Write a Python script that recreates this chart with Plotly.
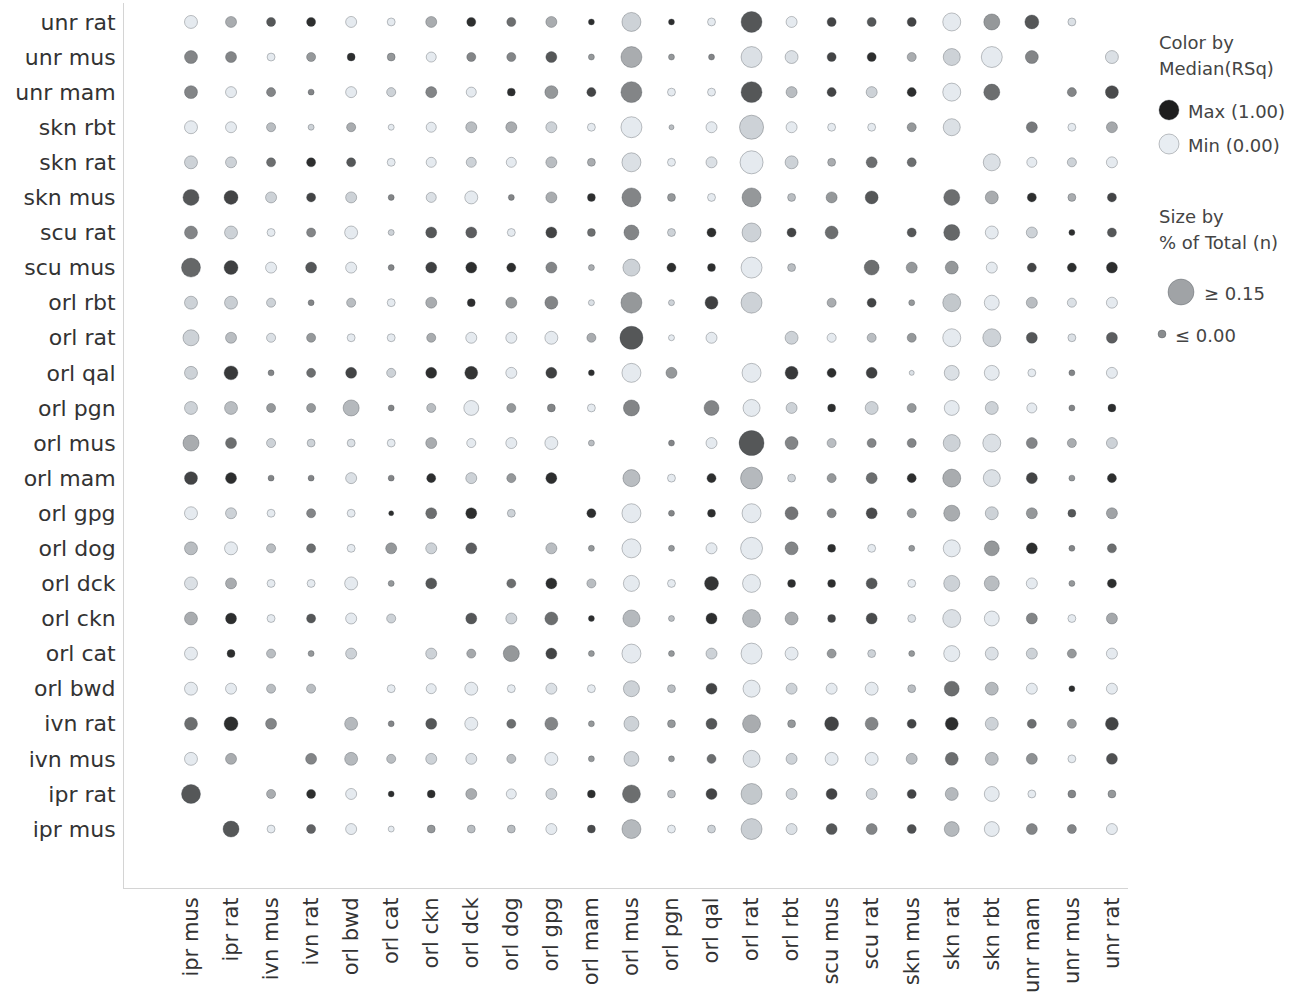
import plotly.graph_objects as go

# Row headers (top to bottom) and column headers (left to right)
rows = ["unr rat", "unr mus", "unr mam", "skn rbt", "skn rat", "skn mus", "scu rat", "scu mus",
        "orl rbt", "orl rat", "orl qal", "orl pgn", "orl mus", "orl mam", "orl gpg", "orl dog",
        "orl dck", "orl ckn", "orl cat", "orl bwd", "ivn rat", "ivn mus", "ipr rat", "ipr mus"]
cols = ["ipr mus", "ipr rat", "ivn mus", "ivn rat", "orl bwd", "orl cat", "orl ckn", "orl dck",
        "orl dog", "orl gpg", "orl mam", "orl mus", "orl pgn", "orl qal", "orl rat", "orl rbt",
        "scu mus", "scu rat", "skn mus", "skn rat", "skn rbt", "unr mam", "unr mus", "unr rat"]

N = None

# % of Total (n), one list per row header
share = [
    [.057, .043, .029, .029, .043, .021, .043, .029, .029, .043, .007, .100, .007, .021, .114, .043, .029, .029, .029, .093, .079, .064, .021, N],
    [.057, .043, .021, .029, .021, .021, .036, .029, .029, .043, .007, .114, .007, .007, .114, .057, .029, .029, .029, .086, .114, .057, N, .057],
    [.057, .043, .029, .007, .043, .029, .043, .036, .021, .057, .029, .114, .021, .021, .114, .043, .029, .043, .029, .093, .079, N, .029, .057],
    [.057, .043, .029, .007, .029, .007, .036, .043, .043, .043, .021, .114, .000, .043, .136, .043, .021, .021, .029, .086, N, .043, .021, .043],
    [.057, .043, .029, .029, .029, .021, .036, .036, .036, .043, .021, .100, .021, .043, .129, .057, .021, .043, .029, N, .086, .036, .029, .043],
    [.079, .064, .043, .029, .043, .007, .036, .057, .007, .043, .021, .100, .021, .021, .100, .021, .043, .057, N, .079, .057, .029, .021, .029],
    [.057, .057, .021, .029, .057, .007, .043, .043, .021, .043, .021, .071, .021, .029, .100, .029, .057, N, .029, .079, .057, .043, .007, .029],
    [.100, .064, .043, .043, .043, .007, .043, .043, .029, .043, .007, .086, .029, .021, .114, .021, N, .071, .043, .057, .043, .029, .029, .043],
    [.057, .057, .029, .007, .029, .021, .043, .021, .043, .057, .007, .114, .007, .057, .114, N, .029, .029, .007, .093, .071, .043, .029, .043],
    [.079, .043, .029, .029, .021, .021, .029, .043, .043, .057, .029, .129, .007, .043, N, .057, .029, .029, .029, .093, .093, .043, .021, .043],
    [.057, .064, .007, .029, .043, .029, .043, .057, .043, .043, .007, .100, .043, N, .100, .057, .029, .043, .000, .071, .071, .021, .007, .043],
    [.057, .057, .029, .029, .079, .007, .029, .071, .029, .021, .021, .079, N, .071, .086, .043, .021, .057, .029, .071, .057, .036, .007, .021],
    [.079, .043, .029, .021, .021, .021, .043, .029, .043, .057, .007, N, .007, .043, .143, .057, .029, .029, .029, .086, .093, .043, .029, .043],
    [.057, .043, .007, .007, .043, .007, .029, .043, .029, .043, N, .086, .021, .029, .121, .021, .029, .043, .029, .093, .086, .043, .007, .029],
    [.057, .043, .021, .029, .021, .000, .043, .043, .021, N, .029, .100, .007, .021, .100, .057, .029, .043, .029, .079, .057, .043, .021, .043],
    [.057, .057, .029, .029, .021, .043, .043, .043, N, .043, .007, .100, .007, .043, .121, .057, .021, .021, .007, .086, .071, .043, .007, .029],
    [.057, .043, .021, .021, .057, .007, .043, N, .029, .043, .029, .079, .021, .064, .093, .021, .021, .043, .021, .079, .071, .043, .007, .029],
    [.057, .043, .021, .029, .043, .029, N, .043, .043, .057, .007, .086, .007, .043, .093, .057, .021, .043, .021, .093, .071, .043, .021, .043],
    [.057, .021, .029, .007, .043, N, .043, .029, .079, .043, .007, .100, .007, .043, .114, .057, .029, .021, .007, .079, .057, .043, .029, .043],
    [.057, .043, .029, .029, N, .021, .036, .057, .021, .043, .021, .079, .021, .043, .086, .043, .043, .057, .021, .071, .057, .043, .007, .043],
    [.057, .064, .043, N, .057, .007, .043, .057, .029, .057, .007, .071, .021, .043, .093, .021, .064, .057, .029, .057, .057, .029, .029, .057],
    [.057, .043, N, .043, .057, .029, .043, .043, .029, .057, .007, .071, .007, .029, .086, .043, .057, .057, .043, .057, .057, .043, .021, .043],
    [.100, N, .029, .029, .043, .007, .021, .043, .036, .043, .021, .093, .021, .043, .114, .043, .043, .043, .029, .057, .071, .021, .021, .021],
    [N, .079, .021, .029, .043, .007, .021, .021, .021, .043, .021, .100, .021, .021, .114, .043, .043, .043, .029, .071, .071, .043, .029, .043],
]

# Median(RSq), one list per row header
rsq = [
    [.02, .38, .75, .93, .02, .02, .38, .93, .65, .38, .93, .20, .93, .02, .75, .02, .83, .75, .83, .02, .47, .75, .10, N],
    [.55, .55, .02, .47, .93, .47, .02, .55, .55, .75, .47, .38, .47, .55, .10, .10, .83, .93, .38, .20, .02, .55, N, .10],
    [.55, .02, .55, .55, .02, .20, .55, .02, .93, .47, .83, .55, .02, .02, .75, .30, .83, .20, .93, .02, .65, N, .55, .80],
    [.02, .02, .30, .20, .38, .02, .02, .30, .38, .20, .02, .02, .30, .02, .20, .02, .02, .02, .47, .10, N, .60, .02, .40],
    [.20, .20, .65, .93, .75, .02, .02, .20, .02, .30, .38, .10, .02, .10, .02, .20, .38, .65, .65, N, .10, .02, .20, .02],
    [.75, .83, .20, .83, .20, .55, .10, .02, .55, .38, .93, .55, .47, .02, .47, .30, .47, .75, N, .65, .38, .93, .38, .83],
    [.55, .20, .02, .55, .02, .20, .75, .72, .02, .83, .65, .55, .20, .93, .20, .83, .65, N, .75, .68, .02, .20, .93, .75],
    [.68, .85, .02, .75, .02, .55, .85, .93, .93, .55, .38, .20, .93, .93, .02, .30, N, .65, .47, .47, .02, .83, .93, .93],
    [.20, .22, .20, .55, .30, .02, .38, .93, .47, .55, .10, .47, .20, .85, .20, N, .38, .83, .47, .25, .02, .30, .10, .02],
    [.20, .30, .10, .47, .02, .02, .38, .02, .02, .02, .38, .75, .02, .02, N, .20, .02, .30, .47, .02, .20, .75, .10, .72],
    [.20, .88, .55, .65, .83, .20, .93, .90, .02, .85, .93, .02, .47, N, .02, .88, .93, .85, .10, .10, .02, .02, .55, .02],
    [.20, .30, .47, .47, .32, .55, .30, .02, .47, .55, .02, .55, N, .55, .02, .20, .93, .20, .47, .02, .20, .02, .55, .93],
    [.38, .65, .20, .20, .10, .02, .38, .02, .02, .02, .30, N, .55, .02, .75, .55, .30, .55, .55, .20, .10, .55, .38, .20],
    [.83, .93, .55, .55, .10, .55, .93, .20, .47, .93, N, .30, .02, .93, .32, .20, .47, .65, .93, .38, .10, .83, .47, .93],
    [.02, .20, .02, .55, .02, .93, .65, .93, .20, N, .93, .02, .55, .93, .02, .62, .55, .80, .47, .38, .20, .47, .75, .42],
    [.30, .02, .30, .65, .02, .47, .20, .72, N, .30, .47, .02, .47, .02, .02, .55, .93, .02, .47, .02, .47, .93, .55, .65],
    [.10, .38, .02, .02, .02, .47, .75, N, .65, .93, .30, .02, .02, .90, .02, .93, .93, .75, .02, .20, .30, .02, .47, .93],
    [.38, .93, .02, .75, .02, .20, N, .75, .20, .65, .93, .32, .30, .93, .32, .38, .83, .80, .10, .10, .02, .55, .02, .40],
    [.02, .93, .30, .47, .20, N, .20, .40, .47, .83, .47, .02, .47, .20, .02, .02, .47, .20, .47, .02, .10, .20, .47, .02],
    [.02, .02, .30, .30, N, .02, .02, .02, .02, .10, .02, .20, .30, .83, .02, .20, .02, .02, .30, .65, .32, .02, .93, .02],
    [.65, .93, .55, N, .32, .55, .75, .02, .65, .55, .47, .20, .47, .75, .38, .47, .83, .55, .83, .93, .20, .65, .47, .83],
    [.02, .38, N, .55, .32, .30, .20, .10, .30, .02, .47, .20, .47, .65, .10, .20, .02, .02, .30, .65, .30, .50, .02, .78],
    [.75, N, .38, .93, .02, .93, .93, .38, .02, .20, .93, .65, .30, .83, .25, .20, .83, .20, .83, .32, .02, .02, .55, .47],
    [N, .75, .02, .70, .02, .02, .47, .30, .30, .02, .80, .32, .02, .20, .22, .10, .75, .55, .78, .32, .02, .55, .55, .02],
]

# Size scale: % of Total (n) -> marker diameter in px
SIZE_MIN, SIZE_MAX, SHARE_CAP = 5.0, 26.0, 0.15
GREYS = [[0.0, "#e8edf2"], [0.2, "#cdd2d7"], [0.4, "#a5a8ab"],
         [0.6, "#77797b"], [0.8, "#4a4b4c"], [1.0, "#1e1e1e"]]
FONT = "DejaVu Sans"


def size_of(s):
    return SIZE_MIN + (SIZE_MAX - SIZE_MIN) * min(s, SHARE_CAP) / SHARE_CAP


xs, ys, sz, cv, hov = [], [], [], [], []
for r, row in enumerate(rows):
    for c, col in enumerate(cols):
        s = share[r][c]
        if s is None:
            continue
        xs.append(col)
        ys.append(row)
        sz.append(size_of(s))
        cv.append(rsq[r][c])
        hov.append(f"{row} / {col}<br>% of Total (n): {s:.3f}<br>Median(RSq): {rsq[r][c]:.2f}")

fig = go.Figure()
fig.add_trace(go.Scatter(
    x=xs, y=ys, mode="markers", text=hov, hoverinfo="text", showlegend=False,
    marker=dict(size=sz, color=cv, colorscale=GREYS, cmin=0, cmax=1, opacity=1,
                line=dict(color="rgba(60,65,70,0.32)", width=1)),
))

# Legend panel drawn on its own pixel-unit axes at the right
fig.add_trace(go.Scatter(
    x=[1169, 1169, 1181, 1162], y=[110, 144, 292, 334], mode="markers",
    xaxis="x2", yaxis="y2", showlegend=False, hoverinfo="skip",
    marker=dict(size=[20, 20, 26, 8], color=[1.0, 0.0, 0.42, 0.52],
                colorscale=GREYS, cmin=0, cmax=1, opacity=1,
                line=dict(color="rgba(60,65,70,0.32)", width=1)),
))
legend_texts = [
    (1157, 42, "Color by"), (1157, 68, "Median(RSq)"),
    (1186, 111, "Max (1.00)"), (1186, 145, "Min (0.00)"),
    (1157, 216, "Size by"), (1157, 242, "% of Total (n)"),
    (1202, 293, "≥ 0.15"), (1173, 335, "≤ 0.00"),
]
for lx, ly, t in legend_texts:
    fig.add_annotation(x=lx, y=ly, xref="x2", yref="y2", text=t, showarrow=False,
                       xanchor="left", yanchor="middle",
                       font=dict(family=FONT, size=18, color="#444444"))

W, H = 1301, 995
ML, MR, MT, MB = 124, 5, 3, 107
pw = W - ML - MR
x_end = 1128
dom = (x_end - ML) / pw

fig.update_layout(
    width=W, height=H, margin=dict(l=ML, r=MR, t=MT, b=MB, autoexpand=False),
    paper_bgcolor="white", plot_bgcolor="white",
    font=dict(family=FONT, size=21, color="#333333"),
    xaxis=dict(domain=[0, dom], type="category", categoryorder="array", categoryarray=cols,
               range=[-1.673, -1.673 + (x_end - ML) / 40.04], tickangle=-90, automargin=False,
               showgrid=False, zeroline=False, showline=True, linecolor="#d4d4d4", linewidth=1,
               ticks="", ticklabelstandoff=0, tickfont=dict(family=FONT, size=21, color="#333333")),
    yaxis=dict(type="category", categoryorder="array", categoryarray=rows[::-1], automargin=False,
               range=[-1.68, 23.54], showgrid=False, zeroline=False, showline=True,
               linecolor="#d4d4d4", linewidth=1, ticks="", ticklabelstandoff=3,
               tickfont=dict(family=FONT, size=22, color="#333333")),
    xaxis2=dict(domain=[dom, 1], range=[x_end, W - MR], visible=False, fixedrange=True),
    yaxis2=dict(domain=[0, 1], range=[H - MB, MT], anchor="x2", visible=False, fixedrange=True),
)

fig.write_html("out.html")
